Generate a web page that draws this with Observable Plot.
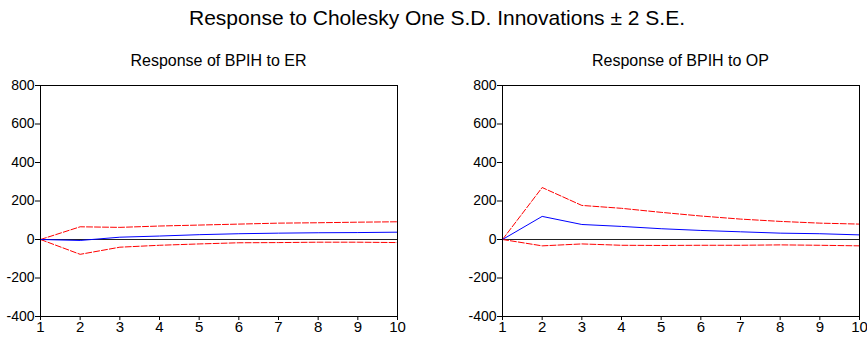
<!DOCTYPE html>
<html>
<head>
<meta charset="utf-8">
<script src="https://cdn.jsdelivr.net/npm/d3@7"></script>
<script src="https://cdn.jsdelivr.net/npm/@observablehq/plot@0.6"></script>
<style>
  body { margin: 0; background: #fff; font-family: "Liberation Sans", Arial, sans-serif; }
  #wrap { position: relative; width: 867px; height: 337px; overflow: hidden; }
  .title { position: absolute; left: 0; width: 874px; top: 6px; text-align: center; font-size: 21px; color: #000; line-height: 24px; }
  .sub { position: absolute; top: 52px; font-size: 16px; color: #000; text-align: center; line-height: 18px; }
  .panel { position: absolute; top: 75px; }
</style>
</head>
<body>
<div id="wrap">
  <div class="title">Response to Cholesky One S.D. Innovations ± 2 S.E.</div>
  <div class="sub" style="left:40px;width:357px;">Response of BPIH to ER</div>
  <div class="sub" style="left:502px;width:357px;">Response of BPIH to OP</div>
  <div class="panel" id="p1" style="left:0px;"></div>
  <div class="panel" id="p2" style="left:460px;"></div>
</div>
<script>
const periods = [1, 2, 3, 4, 5, 6, 7, 8, 9, 10];
const yTicks = [-400, -200, 0, 200, 400, 600, 800];

// Response of BPIH to ER
const erResp  = [0, -5, 12, 18, 25, 30, 33, 35, 36, 38];
const erUpper = [0, 66, 63, 70, 75, 80, 85, 87, 90, 92];
const erLower = [0, -77, -40, -30, -23, -17, -16, -14, -14, -16];

// Response of BPIH to OP
const opResp  = [0, 120, 78, 68, 56, 47, 40, 33, 30, 24];
const opUpper = [0, 270, 177, 162, 141, 122, 106, 94, 85, 80];
const opLower = [0, -33, -23, -30, -31, -30, -30, -28, -30, -33];

function panel(resp, upper, lower, width, ml, mr) {
  const rows = (arr) => periods.map((p, i) => ({x: p, y: arr[i]}));
  return Plot.plot({
    width: width,
    height: 262,
    marginLeft: ml,
    marginRight: mr,
    marginTop: 10,
    marginBottom: 21,
    style: {fontFamily: "'Liberation Sans', Arial, sans-serif", fontSize: "14px", color: "#000", background: "#fff"},
    x: {domain: [1, 10], label: null},
    y: {domain: [-400, 800], label: null},
    marks: [
      Plot.axisX(periods, {tickSize: 4, tickPadding: 1, fontSize: 15, tickFormat: d => String(d), stroke: "#000"}),
      Plot.axisY(yTicks, {tickSize: 5, tickPadding: 1, fontSize: 14, tickFormat: d => String(d), stroke: "#000"}),
      Plot.ruleY([0], {stroke: "#222", strokeWidth: 1}),
      Plot.line(rows(upper), {x: "x", y: "y", stroke: "#ff0000", strokeWidth: 1, strokeDasharray: "6,2"}),
      Plot.line(rows(lower), {x: "x", y: "y", stroke: "#ff0000", strokeWidth: 1, strokeDasharray: "6,2"}),
      Plot.line(rows(resp), {x: "x", y: "y", stroke: "#0000ff", strokeWidth: 1}),
      Plot.frame({stroke: "#000", strokeWidth: 1})
    ]
  });
}

document.getElementById("p1").appendChild(panel(erResp, erUpper, erLower, 430, 40, 33));
document.getElementById("p2").appendChild(panel(opResp, opUpper, opLower, 407, 42, 8));
</script>
</body>
</html>
